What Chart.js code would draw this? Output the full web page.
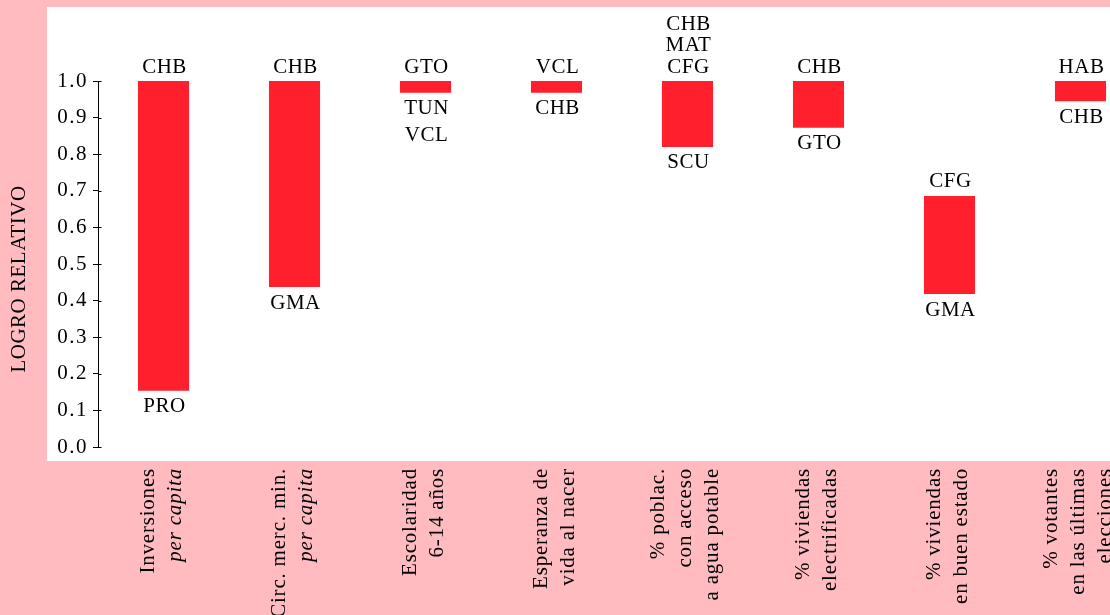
<!DOCTYPE html>
<html><head><meta charset="utf-8">
<script src="https://cdn.jsdelivr.net/npm/chart.js@4.4.1/dist/chart.umd.min.js"></script>
<style>
html,body{margin:0;padding:0;overflow:hidden;background:#FFBBC0;width:1110px;height:615px;}
#wrap{position:absolute;left:0;top:0;width:1148px;height:615px;}
</style></head><body>
<div id="wrap"><canvas id="c"></canvas></div>
<script>
// ---- data ----
const categories = [
  ["Inversiones", "per capita"],
  ["Circ. merc. min.", "per capita"],
  ["Escolaridad", "6-14 años"],
  ["Esperanza de", "vida al nacer"],
  ["% poblac.", "con acceso", "a agua potable"],
  ["% viviendas", "electrificadas"],
  ["% viviendas", "en buen estado"],
  ["% votantes", "en las últimas", "elecciones"]
];
const italicLines = ["per capita"];
const lowValues  = [0.154, 0.437, 0.968, 0.968, 0.820, 0.872, 0.418, 0.945];
const highValues = [1.0,   1.0,   1.0,   1.0,   1.0,   1.0,   0.686, 1.0];
const topLabels = [["CHB"], ["CHB"], ["GTO"], ["VCL"], ["CHB", "MAT", "CFG"], ["CHB"], ["CFG"], ["HAB"]];
const bottomLabels = [["PRO"], ["GMA"], ["TUN", "VCL"], ["CHB"], ["SCU"], ["GTO"], ["GMA"], ["CHB"]];
const yTitle = "LOGRO RELATIVO";
const yMin = 0, yMax = 1, yStep = 0.1;

const FONT = "Liberation Serif";
const PINK = "#FFBBC0";
const RED = "#FF1F2D";

const bgPlugin = {
  id: "bg",
  beforeDraw(chart) {
    const ctx = chart.ctx;
    ctx.save();
    ctx.fillStyle = PINK;
    ctx.fillRect(0, 0, chart.width, chart.height);
    ctx.fillStyle = "#FFFFFF";
    ctx.fillRect(47, 7, chart.width - 47, 454);
    ctx.restore();
    ctx.letterSpacing = "1.5px";
  }
};

const labelPlugin = {
  id: "labels",
  afterDraw(chart) {
    const ctx = chart.ctx;
    const xs = chart.scales.x, ys = chart.scales.y;
    ctx.save();
    ctx.fillStyle = "#000";
    ctx.textAlign = "center";
    ctx.textBaseline = "middle";
    ctx.letterSpacing = "0.5px";
    ctx.font = "21px '" + FONT + "'";
    // bar end labels
    for (let i = 0; i < categories.length; i++) {
      const x = xs.getPixelForValue(i) + 1;
      const yt = ys.getPixelForValue(highValues[i]);
      const yb = ys.getPixelForValue(lowValues[i]);
      const tl = topLabels[i];
      for (let k = 0; k < tl.length; k++) {
        ctx.fillText(tl[k], x, yt - 14 - (tl.length - 1 - k) * 21.5);
      }
      const bl = bottomLabels[i];
      for (let k = 0; k < bl.length; k++) {
        ctx.fillText(bl[k], x, yb + 16 + k * 27);
      }
    }
    // category labels (rotated)
    ctx.letterSpacing = "0.8px";
    ctx.textAlign = "right";
    for (let i = 0; i < categories.length; i++) {
      const lines = categories[i];
      const cx = xs.getPixelForValue(i) - 2;
      const n = lines.length;
      for (let k = 0; k < n; k++) {
        const lx = cx + (k - (n - 1) / 2) * 27;
        const txt = lines[k];
        const ital = italicLines.includes(txt);
        ctx.font = (ital ? "italic " : "") + "21px '" + FONT + "'";
        ctx.save();
        ctx.translate(lx, 468);
        ctx.rotate(-Math.PI / 2);
        ctx.fillText(txt, 0, 0);
        ctx.restore();
      }
    }
    // y title
    ctx.letterSpacing = "0.5px";
    ctx.font = "21px '" + FONT + "'";
    ctx.textAlign = "center";
    ctx.save();
    ctx.translate(19, 279);
    ctx.rotate(-Math.PI / 2);
    ctx.fillText(yTitle, 0, 0);
    ctx.restore();
    // tick marks right part
    ctx.strokeStyle = "#000";
    ctx.lineWidth = 1;
    ctx.beginPath();
    ys.ticks.forEach(t => {
      const y = Math.round(ys.getPixelForValue(t.value)) + 0.5;
      ctx.moveTo(chart.chartArea.left, y);
      ctx.lineTo(chart.chartArea.left + 3.5, y);
    });
    ctx.stroke();
    ctx.restore();
  }
};

new Chart(document.getElementById("c"), {
  type: "bar",
  data: {
    labels: categories.map(c => c.join(" ")),
    datasets: [{
      data: lowValues.map((l, i) => [l, highValues[i]]),
      backgroundColor: RED,
      borderWidth: 0,
      categoryPercentage: 1,
      barPercentage: 0.39
    }]
  },
  options: {
    responsive: true,
    maintainAspectRatio: false,
    animation: false,
    layout: { padding: { left: 0, top: 81, right: 2, bottom: 168 } },
    plugins: { legend: { display: false }, tooltip: { enabled: false } },
    scales: {
      x: {
        type: "category",
        offset: true,
        grid: { display: false },
        border: { display: false },
        ticks: { display: false },
        afterFit: s => { s.height = 0; }
      },
      y: {
        min: yMin, max: yMax,
        afterFit: s => { s.width = 98; },
        ticks: {
          stepSize: yStep,
          color: "#000",
          padding: 5,
          font: { family: FONT, size: 21 },
          callback: v => Number(v).toFixed(1)
        },
        grid: { drawOnChartArea: false, drawTicks: true, tickLength: 5, color: "#000" },
        border: { display: true, color: "#000", width: 1 }
      }
    }
  },
  plugins: [bgPlugin, labelPlugin]
});
</script>
</body></html>
